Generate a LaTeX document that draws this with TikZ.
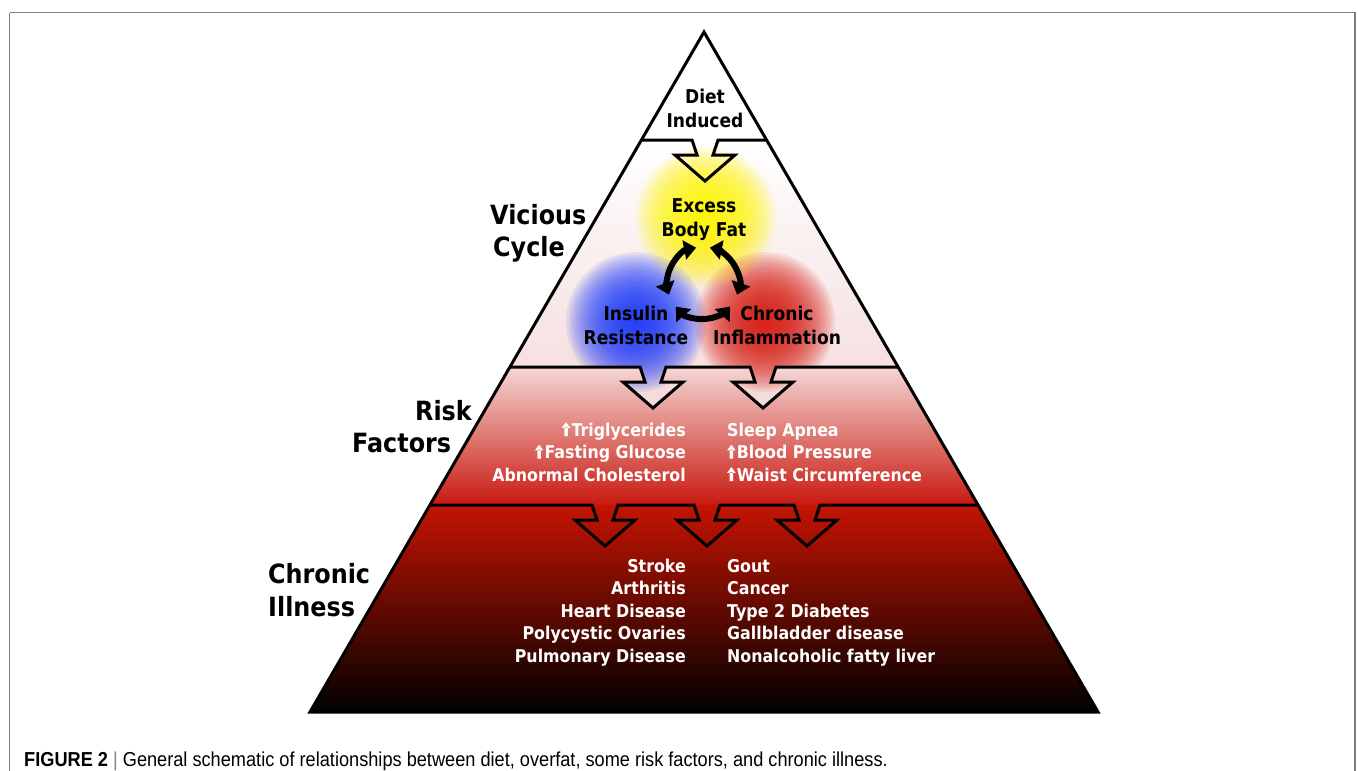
\documentclass[tikz,border=0pt]{standalone}
\usepackage{fontspec}
\usepackage{graphicx}
\setmainfont{Liberation Sans}
\newfontfamily\lab[FakeStretch=0.9]{DejaVu Sans}
\newfontfamily\capfont[FakeStretch=0.9]{Liberation Sans}
\usetikzlibrary{arrows.meta}
\definecolor{vicbot}{RGB}{244,218,218}
\definecolor{risktop}{RGB}{245,215,213}
\definecolor{riskbot}{RGB}{200,25,15}
\definecolor{chrtop}{RGB}{196,20,2}
\definecolor{chrmid}{RGB}{112,8,2}
\definecolor{glowyellow}{RGB}{255,245,0}
\definecolor{glowblue}{RGB}{25,55,255}
\definecolor{glowred}{RGB}{215,25,15}
\newcommand\arrw[2]{-- (#1-13,#2) -- (#1-8,#2+15) -- (#1-30,#2+15) -- (#1,#2+41) -- (#1+30,#2+15) -- (#1+8,#2+15) -- (#1+13,#2)}
\newcommand\uparr{\tikz[baseline=0pt,x=1pt,y=1pt]{\fill[white] (-1.8,0) rectangle (1.8,9) (-4.2,8.2) -- (4.2,8.2) -- (0,13.8) -- cycle;}\kern1.2pt}
\begin{document}
\begin{tikzpicture}[x=1pt,y=-1pt,
  figframe/.style={draw=gray, line width=1.5pt},
  outl/.style={draw=black, line width=3pt, line join=miter},
  sidelab/.style={font=\lab\bfseries\fontsize{26.5}{30}\selectfont, text=black, inner sep=0pt, anchor=base west},
  cyclab/.style={font=\lab\bfseries\fontsize{19}{22}\selectfont, text=black, inner sep=0pt, anchor=base},
  wleft/.style={font=\lab\bfseries\fontsize{17.6}{21}\selectfont, text=white, inner sep=0pt, anchor=base east},
  wright/.style={font=\lab\bfseries\fontsize{17.6}{21}\selectfont, text=white, inner sep=0pt, anchor=base west},
  cyclearc/.style={line width=6pt, {Triangle[length=12pt,width=19pt]}-{Triangle[length=12pt,width=19pt]}},
]
\useasboundingbox (0,0) rectangle (1358,771);
\clip (0,0) rectangle (1358,771);
\fill[white] (0,0) rectangle (1358,771);
\draw[figframe] (9.5,12.5) -- (1355,12.5) -- (1355,800);
\draw[figframe] (9.5,12.5) -- (9.5,800);

% coordinates of the pyramid
\coordinate (apex) at (704,32);
\coordinate (bl) at (310,712);
\coordinate (br) at (1098,712);

% bands
\shade[top color=chrtop, middle color=chrmid, bottom color=black]
  (429.9,505) -- (978.1,505) -- (1098,712) -- (310,712) -- cycle;
\shade[top color=risktop, bottom color=riskbot]
  (509.9,367) -- (898.1,367) -- (978.1,505) -- (429.9,505) -- cycle;
\shade[top color=white, bottom color=vicbot]
  (766.6,140) -- (641.4,140) -- (509.9,367) \arrw{653}{367} \arrw{763}{367} -- (898.1,367) -- cycle;

% glows
\coordinate (gy) at (706,217);
\coordinate (gb) at (636,322);
\coordinate (gr) at (765,322);
\begin{scope}
  \clip (766.6,140) -- (641.4,140) -- (509.9,367) \arrw{653}{367} \arrw{763}{367} -- (898.1,367) -- cycle;
  \foreach \rr in {2.5,5,...,70} {
    \fill[glowyellow, opacity=0.09] (gy) circle (\rr);
    \fill[glowblue, opacity=0.085] (gb) circle (\rr);
    \fill[glowred, opacity=0.085] (gr) circle (\rr);
  }
\end{scope}

% outlines
\draw[outl] (apex) -- (br) -- (bl) -- cycle;
\draw[outl] (641.4,140) \arrw{705}{140} -- (766.6,140);
\draw[outl] (509.9,367) \arrw{653}{367} \arrw{763}{367} -- (898.1,367);
\draw[outl] (429.9,505) \arrw{605}{505} \arrw{707}{505} \arrw{807}{505} -- (978.1,505);

% cycle
\coordinate (cyc) at (703,283);
\draw[cyclearc] (cyc) ++(-101:36) arc (-101:-199:36);
\draw[cyclearc] (cyc) ++(-221:36) arc (-221:-319:36);
\draw[cyclearc] (cyc) ++(-341:36) arc (-341:-439:36);

% labels in pyramid
\node[cyclab] (diet1) at (705,103) {Diet};
\node[cyclab] (diet2) at (705,127) {Induced};
\node[cyclab] (fat1) at (704,212) {Excess};
\node[cyclab] (fat2) at (704,236) {Body Fat};
\node[cyclab] (ins1) at (636,320) {Insulin};
\node[cyclab] (ins2) at (636,344) {Resistance};
\node[cyclab] (inf1) at (777,320) {Chronic};
\node[cyclab] (inf2) at (777,344) {Inflammation};

% side labels
\node[sidelab] (vc1) at (490,224) {Vicious};
\node[sidelab] (vc2) at (493,256) {Cycle};
\node[sidelab] (rf1) at (415,420) {Risk};
\node[sidelab] (rf2) at (352,452) {Factors};
\node[sidelab] (ci1) at (268,583) {Chronic};
\node[sidelab] (ci2) at (268,616) {Illness};

% risk factors
\node[wleft] (r1) at (686,436) {\uparr Triglycerides};
\node[wleft] (r2) at (686,458.5) {\uparr Fasting Glucose};
\node[wleft] (r3) at (686,481) {Abnormal Cholesterol};
\node[wright] (r4) at (727,436) {Sleep Apnea};
\node[wright] (r5) at (727,458.5) {\uparr Blood Pressure};
\node[wright] (r6) at (727,481) {\uparr Waist Circumference};

% chronic illness
\node[wleft] (c1) at (686,572) {Stroke};
\node[wleft] (c2) at (686,594.5) {Arthritis};
\node[wleft] (c3) at (686,617) {Heart Disease};
\node[wleft] (c4) at (686,639.5) {Polycystic Ovaries};
\node[wleft] (c5) at (686,662) {Pulmonary Disease};
\node[wright] (c6) at (727,572) {Gout};
\node[wright] (c7) at (727,594.5) {Cancer};
\node[wright] (c8) at (727,617) {Type 2 Diabetes};
\node[wright] (c9) at (727,639.5) {Gallbladder disease};
\node[wright] (c10) at (727,662) {Nonalcoholic fatty liver};

% caption
\node[anchor=base west, inner sep=0pt, font=\capfont\fontsize{20.2}{24}\selectfont] (cap) at (24,766)
  {\textbf{FIGURE 2} {\color{gray}|} General schematic of relationships between diet, overfat, some risk factors, and chronic illness.};
\end{tikzpicture}
\end{document}
